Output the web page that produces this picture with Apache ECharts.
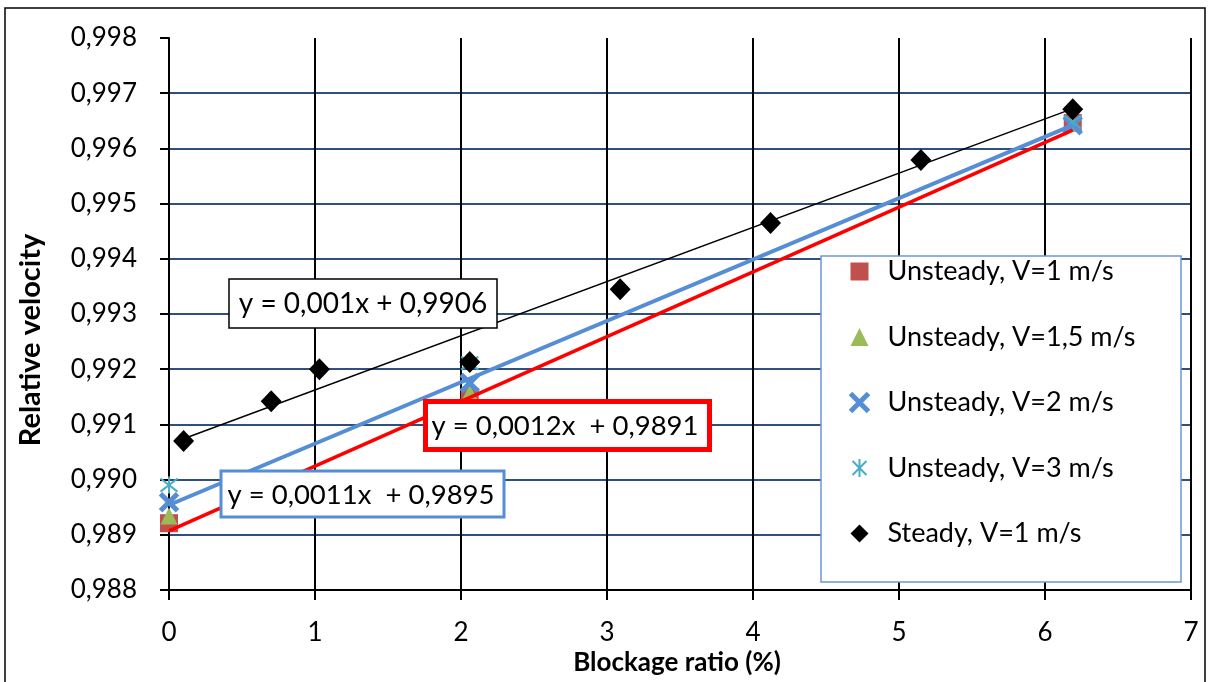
<!DOCTYPE html>
<html>
<head>
<meta charset="utf-8">
<script src="https://cdn.jsdelivr.net/npm/echarts@6/dist/echarts.min.js"></script>
<style>html,body{margin:0;padding:0;background:#fff}#c{width:1211px;height:682px}</style>
</head>
<body>
<div id="c"></div>
<script>
// ---- data ----
const seriesNames = ['Unsteady, V=1 m/s','Unsteady, V=1,5 m/s','Unsteady, V=2 m/s','Unsteady, V=3 m/s','Steady, V=1 m/s'];
const unsteadyX = [0, 2.06, 6.19];
const unsteadyV1 = [0.98921, 0.9915, 0.99646];
const unsteadyV15 = [0.98934, 0.99157, 0.99645];
const unsteadyV2 = [0.98959, 0.99175, 0.99642];
const unsteadyV3 = [0.9899, 0.99211, 0.99648];
const steadyX = [0.1, 0.7, 1.03, 2.06, 3.09, 4.12, 5.15, 6.19];
const steadyV1 = [0.9907, 0.99142, 0.9920, 0.99213, 0.99345, 0.99465, 0.99579, 0.99671];
const trendRedX = [0, 6.19];
const trendRedY = [0.98907, 0.99633];
const trendBlueX = [0, 6.19];
const trendBlueY = [0.98954, 0.99642];
const trendBlackX = [0.1, 6.19];
const trendBlackY = [0.99074, 0.99672];
const eqBlack = 'y = 0,001x + 0,9906';
const eqBlue = 'y = 0,0011x  + 0,9895';
const eqRed = 'y = 0,0012x  + 0,9891';
const xTitle = 'Blockage ratio (%)';
const yTitle = 'Relative velocity';

const zip = (xs, ys) => xs.map((x, i) => [x, ys[i]]);
const FONT = 'Lato';
const crossPath = 'path://M0,0L10,10M10,0L0,10';
const starPath = 'path://M0,0L10,10M10,0L0,10M5,-1.5L5,11.5';
const blue = '#558ed5';
const cyan = '#4bacc6';

const chart = echarts.init(document.getElementById('c'), null, {renderer: 'canvas'});
const option = {
  animation: false,
  backgroundColor: '#fff',
  grid: {left: 169, right: 20, top: 38, bottom: 92, containLabel: false},
  xAxis: {
    type: 'value', min: 0, max: 7, interval: 1,
    axisLine: {show: true, onZero: false, lineStyle: {color: '#000', width: 2}},
    axisTick: {show: true, inside: false, length: 10, lineStyle: {color: '#000', width: 2}},
    axisLabel: {margin: 30, color: '#000', fontFamily: FONT, fontSize: 26},
    splitLine: {show: true, showMinLine: false, lineStyle: {color: '#000', width: 2}}
  },
  yAxis: {
    type: 'value', min: 0.988, max: 0.998, interval: 0.001,
    axisLine: {show: true, onZero: false, lineStyle: {color: '#000', width: 2}},
    axisTick: {show: true, inside: false, length: 9, lineStyle: {color: '#000', width: 2}},
    axisLabel: {margin: 32, color: '#000', fontFamily: FONT, fontSize: 26,
      formatter: v => v.toFixed(3).replace('.', ',')},
    splitLine: {show: true, showMinLine: false, showMaxLine: false, lineStyle: {color: '#2f4f80', width: 2}}
  },
  legend: {
    orient: 'vertical', left: 848, top: 258, padding: 0,
    itemWidth: 18, itemHeight: 18, itemGap: 38.5, z: 6,
    data: [
      {name: seriesNames[0]},
      {name: seriesNames[1]},
      {name: seriesNames[2], itemStyle: {color: 'rgba(0,0,0,0)', borderColor: blue, borderWidth: 5}},
      {name: seriesNames[3], itemStyle: {color: 'rgba(0,0,0,0)', borderColor: cyan, borderWidth: 2}},
      {name: seriesNames[4]}
    ],
    textStyle: {fontFamily: FONT, fontSize: 27, lineHeight: 27, color: '#000', padding: [0, 0, 0, 14]}
  },
  series: [
    {name: 'trendRed', type: 'line', data: zip(trendRedX, trendRedY), showSymbol: false, symbol: 'none',
      lineStyle: {color: '#ff0000', width: 3.5}, z: 3, silent: true},
    {name: 'trendBlue', type: 'line', data: zip(trendBlueX, trendBlueY), showSymbol: false, symbol: 'none',
      lineStyle: {color: blue, width: 4}, z: 3, silent: true},
    {name: 'trendBlack', type: 'line', data: zip(trendBlackX, trendBlackY), showSymbol: false, symbol: 'none',
      lineStyle: {color: '#000', width: 1.5}, z: 3, silent: true},
    {name: seriesNames[0], type: 'scatter', data: zip(unsteadyX, unsteadyV1), symbol: 'rect', symbolSize: 18,
      itemStyle: {color: '#c0504d', opacity: 1}, z: 2},
    {name: seriesNames[1], type: 'scatter', data: zip(unsteadyX, unsteadyV15), symbol: 'triangle', symbolSize: 17,
      itemStyle: {color: '#9bbb59', opacity: 1}, z: 2},
    {name: seriesNames[2], type: 'scatter', data: zip(unsteadyX, unsteadyV2), symbol: crossPath, symbolSize: 17,
      itemStyle: {color: 'rgba(0,0,0,0)', borderColor: blue, borderWidth: 5, opacity: 1}, z: 2},
    {name: seriesNames[3], type: 'scatter', data: zip(unsteadyX, unsteadyV3), symbol: starPath, symbolSize: 17,
      itemStyle: {color: 'rgba(0,0,0,0)', borderColor: cyan, borderWidth: 2, opacity: 1}, z: 2},
    {name: seriesNames[4], type: 'scatter', data: zip(steadyX, steadyV1), symbol: 'diamond', symbolSize: [21, 22],
      itemStyle: {color: '#000', opacity: 1}, z: 4}
  ],
  graphic: [
    {type: 'rect', z: 0, silent: true, shape: {x: 5, y: 8, width: 1200, height: 700},
      style: {fill: 'none', stroke: '#000', lineWidth: 1.5}},
    {type: 'rect', z: 5, silent: true, shape: {x: 821, y: 256, width: 360, height: 326},
      style: {fill: '#fff', stroke: '#6f97d0', lineWidth: 1.5}},
    {type: 'rect', z: 10, silent: true, shape: {x: 229, y: 279, width: 268, height: 49},
      style: {fill: '#fff', stroke: '#000', lineWidth: 1.5}},
    {type: 'text', z: 11, silent: true, x: 363, y: 304,
      style: {text: eqBlack, font: '28px ' + FONT, fill: '#000', align: 'center', verticalAlign: 'middle'}},
    {type: 'rect', z: 10, silent: true, shape: {x: 221, y: 471, width: 283, height: 46},
      style: {fill: '#fff', stroke: blue, lineWidth: 3}},
    {type: 'text', z: 11, silent: true, x: 361, y: 495,
      style: {text: eqBlue, font: '27.5px ' + FONT, fill: '#000', align: 'center', verticalAlign: 'middle'}},
    {type: 'rect', z: 10, silent: true, shape: {x: 425.5, y: 401.5, width: 284, height: 48},
      style: {fill: '#fff', stroke: '#ff0000', lineWidth: 5}},
    {type: 'text', z: 11, silent: true, x: 565, y: 426,
      style: {text: eqRed, font: '27.5px ' + FONT, fill: '#000', align: 'center', verticalAlign: 'middle'}},
    {type: 'text', z: 11, silent: true, x: 677, y: 663,
      style: {text: xTitle, font: 'bold 26px ' + FONT, fill: '#000', align: 'center', verticalAlign: 'middle'}},
    {type: 'text', z: 11, silent: true, x: 31, y: 340, rotation: Math.PI / 2,
      style: {text: yTitle, font: 'bold 29px ' + FONT, fill: '#000', align: 'center', verticalAlign: 'middle'}}
  ]
};
chart.setOption(option);
</script>
</body>
</html>
